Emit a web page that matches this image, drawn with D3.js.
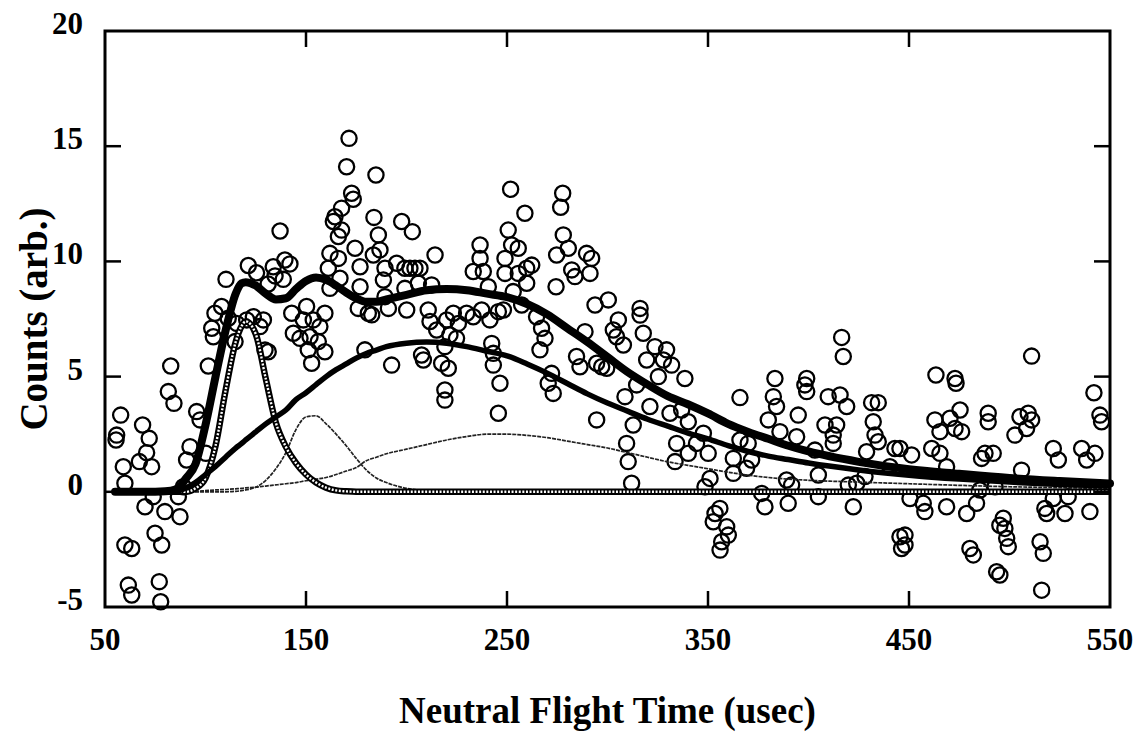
<!DOCTYPE html>
<html>
<head>
<meta charset="utf-8">
<script src="https://cdn.jsdelivr.net/npm/d3@7"></script>
<style>
  body {margin: 0; background: #fff;}
  text {font-family: 'Liberation Serif', 'Times New Roman', serif; font-weight: bold; fill: #000;}
</style>
</head>
<body>
<svg id="chart" width="1135" height="732"></svg>
<script>
const xTicks = [50, 150, 250, 350, 450, 550];
const yTicks = [-5, 0, 5, 10, 15, 20];

// measured points (usec, counts)
const obsTime = [
  57.8, 55.8, 55.5, 68.7, 72.0, 70.7, 67.1, 59.1, 73.2, 59.9, 82.7, 81.5, 84.3, 95.6, 97.3, 101.4, 92.3, 100.2, 90.6, 89.0,
  74.0, 69.9, 79.8, 86.5, 87.3, 74.9, 78.2, 59.9, 63.3, 61.6, 63.3, 77.0, 77.7, 110.2, 121.3, 125.4, 133.7, 139.5, 142.0, 134.6,
  138.7, 131.2, 108.0, 104.7, 103.1, 111.3, 115.5, 120.5, 123.8, 128.8, 127.1, 114.7, 129.6, 131.2, 142.9, 143.7, 147.0, 103.9, 137.1,
  171.4, 170.2, 184.8, 172.7, 173.5, 167.7, 164.4, 163.6, 167.7, 166.1, 183.8, 197.6, 202.9, 214.2, 186.0, 186.8, 183.5, 174.4, 161.9, 166.1,
  161.1, 166.9, 176.9, 161.9, 176.9, 189.3, 188.5, 195.1, 199.2, 201.7, 204.2, 206.7, 205.9, 199.2, 189.3, 212.5, 176.0, 181.0, 182.7, 191.0,
  200.1, 210.8, 211.7, 215.0, 220.0, 223.3, 225.8, 229.9, 233.2, 237.4, 241.5, 245.7, 236.6, 236.6, 233.2, 238.2, 240.7, 224.9, 219.1, 221.6,
  208.4, 207.5, 217.5, 220.8, 192.6, 179.3, 219.1, 219.1, 245.7, 246.5, 242.4, 243.2, 243.2, 152.8, 150.3, 148.7, 153.6, 159.4, 156.9, 152.0,
  156.1, 159.4, 151.1,
  251.8, 277.7, 276.7, 258.9, 250.6, 252.3, 255.6, 278.0, 280.5, 274.7, 289.6, 292.1, 291.3, 282.2, 283.8, 262.3, 259.8, 249.0, 249.0, 255.6,
  259.8, 253.1, 274.4, 257.3, 264.7, 267.2, 268.9, 266.4, 248.2, 293.8, 300.4, 305.4, 302.9, 307.9, 304.5, 316.2, 316.2, 317.8, 288.8, 284.6,
  286.3, 294.6, 297.1, 299.6, 319.5, 323.6, 329.4, 327.8, 331.9, 325.3, 338.5, 314.5, 272.2, 270.5, 273.0, 294.6, 308.7, 321.1, 312.8, 309.5,
  310.3, 312.0, 331.1, 336.9, 340.2, 334.4, 333.6, 340.2, 344.3,
  416.5, 417.3, 383.3, 399.1, 398.2, 399.1, 365.9, 382.5, 384.1, 380.0, 409.8, 415.7, 419.0, 431.4, 434.7, 394.9, 408.2, 414.0, 432.2, 433.1,
  434.7, 412.3, 412.3, 385.8, 394.1, 443.0, 347.7, 365.9, 370.0, 350.1, 362.6, 371.7, 369.2, 362.6, 351.0, 348.5, 403.2, 404.9, 389.1, 391.6,
  389.9, 376.7, 378.3, 404.9, 428.9, 428.1, 424.0, 422.3, 419.8, 440.5, 355.9, 353.5, 352.6, 359.3, 360.1, 356.8, 356.0, 445.5, 446.3,
  511.0, 463.4, 472.9, 473.4, 542.0, 545.0, 545.8, 462.9, 470.4, 475.4, 476.2, 472.9, 465.4, 489.4, 489.4, 505.2, 509.3, 511.0, 508.5, 502.7,
  521.8, 524.3, 535.9, 542.5, 538.4, 461.3, 465.4, 451.3, 445.5, 487.8, 491.9, 486.1, 468.7, 506.0, 529.2, 540.0, 521.8, 517.6, 518.5, 527.6,
  492.8, 485.3, 483.6, 478.7, 468.7, 457.1, 457.9, 450.5, 496.9, 497.7, 498.6, 499.4, 495.2, 515.2, 516.8, 480.3, 482.0, 493.6, 495.2, 516.0,
  448.0, 448.0,
];
const obsCounts = [
  3.33, 2.46, 2.25, 2.9, 2.32, 1.70, 1.31, 1.09, 1.09, 0.37, 5.46, 4.35, 3.84, 3.48, 3.12, 5.46, 1.96, 1.67, 1.38, 0.22,
  -0.21, -0.65, -0.86, -0.21, -1.08, -1.80, -2.31, -2.31, -2.46, -4.05, -4.48, -3.90, -4.77, 9.22, 9.82, 9.51, 9.77, 10.06, 9.89, 9.37,
  9.22, 9.02, 8.04, 7.75, 7.10, 7.53, 7.31, 7.46, 7.60, 7.46, 7.17, 6.52, 6.15, 6.08, 7.75, 6.88, 6.66, 6.73, 11.32,
  15.34, 14.11, 13.75, 12.96, 12.70, 12.31, 11.94, 11.73, 11.36, 11.08, 11.91, 11.73, 11.29, 10.28, 11.15, 10.50, 10.28, 10.57, 10.35, 10.13,
  9.70, 9.27, 9.77, 8.83, 8.90, 9.70, 9.19, 9.92, 9.70, 9.70, 9.70, 9.70, 9.05, 8.83, 8.47, 8.98, 7.96, 7.75, 7.68, 7.96,
  7.89, 7.89, 7.39, 7.02, 7.46, 7.75, 7.31, 7.75, 7.60, 7.89, 7.46, 7.82, 10.71, 10.13, 9.56, 9.56, 8.90, 6.66, 6.30, 6.81,
  5.72, 5.94, 5.58, 5.36, 5.50, 6.16, 4.42, 3.98, 3.41, 4.71, 6.44, 6.01, 5.50, 5.58, 8.04, 7.46, 7.46, 7.75, 7.17, 6.73,
  6.52, 6.08, 6.16,
  13.13, 12.96, 12.35, 12.09, 11.36, 10.71, 10.57, 11.15, 10.57, 10.28, 10.35, 10.13, 9.48, 9.63, 9.34, 9.84, 9.70, 10.13, 9.48, 9.48,
  9.05, 8.69, 8.90, 8.11, 7.60, 7.10, 6.66, 6.16, 7.89, 8.11, 8.33, 7.46, 7.02, 6.37, 6.73, 7.96, 7.67, 6.88, 6.95, 5.87,
  5.43, 5.58, 5.43, 5.36, 5.72, 6.30, 6.16, 5.72, 5.50, 5.00, 4.92, 4.64, 5.14, 4.71, 4.27, 3.12, 4.13, 3.70, 2.90, 2.10,
  1.31, 0.37, 3.41, 3.55, 3.04, 2.10, 1.31, 1.67, 2.10,
  6.70, 5.87, 4.92, 4.92, 4.64, 4.35, 4.09, 4.13, 3.70, 3.12, 4.13, 4.20, 3.70, 3.87, 3.87, 3.33, 2.90, 2.90, 3.04, 2.46,
  2.17, 2.46, 2.10, 2.61, 2.39, 1.88, 2.54, 2.25, 2.10, 1.67, 1.45, 1.38, 1.02, 0.80, 0.58, 0.22, 1.81, 0.73, 0.51, 0.29,
  -0.50, -0.07, -0.65, -0.21, 1.74, 0.66, 0.37, -0.65, 0.29, 1.09, -0.72, -0.94, -1.30, -1.52, -1.88, -2.17, -2.53, -1.95, -2.46,
  5.89, 5.07, 4.92, 4.71, 4.30, 3.33, 3.04, 3.12, 3.19, 3.55, 2.61, 2.75, 2.61, 3.41, 3.04, 3.26, 3.41, 3.12, 2.75, 2.46,
  1.88, 1.38, 1.88, 1.67, 1.38, 1.88, 1.67, 1.60, 1.88, 1.67, 1.67, 1.45, 1.09, 0.94, -0.21, -0.86, -0.29, -0.72, -0.94, -0.94,
  0.22, 0.08, -0.50, -0.94, -0.65, -0.50, -0.86, -0.29, -1.15, -1.59, -2.02, -2.38, -1.45, -2.17, -2.67, -2.46, -2.74, -3.47, -3.61, -4.27,
  -1.88, -2.31,
];

// fitted curves, read on a common time grid
const fitTime = [55, 65, 75, 80, 85, 88, 90, 95, 100, 105, 110, 115, 118, 120, 125, 130, 135, 140, 145, 150,
  155, 160, 165, 170, 175, 180, 185, 190, 200, 210, 220, 230, 240, 250, 260, 270, 280, 290, 300, 310,
  320, 330, 340, 350, 360, 370, 380, 390, 400, 425, 450, 475, 500, 525, 550];
const fitTotal = [0, 0, 0, 0.02, 0.1, 0.3, 0.55, 1.2, 2.9, 5.0, 7.0, 8.6, 9.05, 9.1, 8.95, 8.6, 8.35, 8.4, 8.8, 9.15,
  9.3, 9.2, 8.95, 8.65, 8.4, 8.25, 8.25, 8.35, 8.55, 8.75, 8.8, 8.75, 8.6, 8.45, 8.15, 7.7, 7.1, 6.5, 5.85, 5.2,
  4.65, 4.15, 3.8, 3.4, 2.95, 2.6, 2.3, 2.0, 1.75, 1.3, 0.98, 0.78, 0.6, 0.47, 0.36];
const fitBroad = [0, 0, 0, 0, 0, 0.08, 0.15, 0.4, 0.75, 1.1, 1.5, 1.9, 2.1, 2.25, 2.6, 2.95, 3.25, 3.55, 4.0, 4.3,
  4.65, 5.0, 5.3, 5.55, 5.8, 6.0, 6.15, 6.3, 6.45, 6.5, 6.45, 6.3, 6.1, 5.9, 5.55, 5.15, 4.7, 4.25, 3.85, 3.5,
  3.15, 2.85, 2.55, 2.3, 2.0, 1.75, 1.55, 1.4, 1.25, 0.95, 0.72, 0.55, 0.42, 0.32, 0.25];
const fitFast = [0, 0, 0, 0, 0, 0, 0, 0.15, 0.6, 2.0, 4.4, 6.5, 7.2, 7.4, 6.85, 4.9, 3.0, 1.95, 1.25, 0.75,
  0.4, 0.18, 0.06, 0.02, 0, 0, 0, 0, 0, 0, 0, 0, 0, 0, 0, 0, 0, 0, 0, 0,
  0, 0, 0, 0, 0, 0, 0, 0, 0, 0, 0, 0, 0, 0, 0];
const fitPeak = [0, 0, 0, 0, 0, 0, 0, 0, 0, 0, 0, 0.02, 0.05, 0.08, 0.2, 0.5, 1.0, 1.7, 2.7, 3.25,
  3.3, 2.95, 2.5, 2.0, 1.45, 0.95, 0.6, 0.4, 0.15, 0.05, 0, 0, 0, 0, 0, 0, 0, 0, 0, 0,
  0, 0, 0, 0, 0, 0, 0, 0, 0, 0, 0, 0, 0, 0, 0];
const fitSlow = [0, 0, 0, 0, 0, 0, 0, 0.02, 0.05, 0.08, 0.1, 0.13, 0.15, 0.17, 0.2, 0.25, 0.3, 0.35, 0.4, 0.48,
  0.55, 0.62, 0.75, 0.9, 1.05, 1.35, 1.5, 1.65, 1.85, 2.05, 2.25, 2.4, 2.5, 2.5, 2.45, 2.35, 2.2, 2.05, 1.9, 1.7,
  1.5, 1.3, 1.15, 1.0, 0.85, 0.72, 0.62, 0.55, 0.5, 0.42, 0.35, 0.28, 0.22, 0.18, 0.14];

const svg = d3.select('#chart');
const margin = {left: 105, right: 25, top: 31, bottom: 125};
const width = 1135;
const height = 732;

const x = d3.scaleLinear().domain([50, 550]).range([margin.left, width - margin.right]);
const y = d3.scaleLinear().domain([-5, 20]).range([height - margin.bottom, margin.top]);

const plot = svg.append('g');

// data points
plot.append('g').selectAll('circle')
    .data(obsTime.map((t, i)=>({t: t, c: obsCounts[i]})))
    .enter().append('circle')
    .attr('cx', (d)=>x(d.t))
    .attr('cy', (d)=>y(d.c))
    .attr('r', 7.6)
    .style('fill', 'none')
    .style('stroke', '#000')
    .style('stroke-width', 2.3);

const line = (vals)=>d3.line()
    .x((d, i)=>x(fitTime[i]))
    .y((d)=>y(d))
    .curve(d3.curveMonotoneX)(vals);

// thin components
[fitPeak, fitSlow].forEach((vals)=>{
  plot.append('path')
      .attr('d', line(vals))
      .style('fill', 'none')
      .style('stroke', '#222')
      .style('stroke-width', 1.7)
      .style('stroke-dasharray', '4,1');
});

// fast component, beaded look
plot.append('path')
    .attr('d', line(fitFast))
    .style('fill', 'none')
    .style('stroke', '#000')
    .style('stroke-width', 6.5);
plot.append('path')
    .attr('d', line(fitFast))
    .style('fill', 'none')
    .style('stroke', '#fff')
    .style('stroke-width', 2.4)
    .style('stroke-dasharray', '2,1.6');

plot.append('path')
    .attr('d', line(fitBroad))
    .style('fill', 'none')
    .style('stroke', '#000')
    .style('stroke-width', 5.5);

plot.append('path')
    .attr('d', line(fitTotal))
    .style('fill', 'none')
    .style('stroke', '#000')
    .style('stroke-width', 8)
    .style('stroke-linecap', 'round');

// frame and inward ticks
const x0 = x(50); const x1 = x(550); const y0 = y(-5); const y1 = y(20);
svg.append('rect')
    .attr('x', x0).attr('y', y1)
    .attr('width', x1 - x0).attr('height', y0 - y1)
    .style('fill', 'none').style('stroke', '#000').style('stroke-width', 3);

const tickLen = 16;
const ticks = svg.append('g').style('stroke', '#000').style('stroke-width', 2.5);
yTicks.slice(1, -1).forEach((v)=>{
  ticks.append('line').attr('x1', x0).attr('x2', x0 + tickLen).attr('y1', y(v)).attr('y2', y(v));
  ticks.append('line').attr('x1', x1).attr('x2', x1 - tickLen).attr('y1', y(v)).attr('y2', y(v));
});
xTicks.slice(1, -1).forEach((v)=>{
  ticks.append('line').attr('x1', x(v)).attr('x2', x(v)).attr('y1', y0).attr('y2', y0 - tickLen);
  ticks.append('line').attr('x1', x(v)).attr('x2', x(v)).attr('y1', y1).attr('y2', y1 + tickLen);
});

// tick labels
svg.append('g').selectAll('text')
    .data(xTicks)
    .enter().append('text')
    .attr('x', (d)=>x(d))
    .attr('y', y0 + 43)
    .attr('text-anchor', 'middle')
    .style('font-size', '31px')
    .text((d)=>d);

svg.append('g').selectAll('text')
    .data(yTicks)
    .enter().append('text')
    .attr('x', 83)
    .attr('y', (d)=>y(d) + 3)
    .attr('text-anchor', 'end')
    .style('font-size', '31px')
    .text((d)=>d);

svg.append('text')
    .attr('x', (x0 + x1) / 2)
    .attr('y', 723)
    .attr('text-anchor', 'middle')
    .style('font-size', '37px')
    .text('Neutral Flight Time (usec)');

svg.append('text')
    .attr('transform', `translate(47,${(y0 + y1) / 2})rotate(-90)`)
    .attr('text-anchor', 'middle')
    .style('font-size', '39px')
    .text('Counts (arb.)');
</script>
</body>
</html>
